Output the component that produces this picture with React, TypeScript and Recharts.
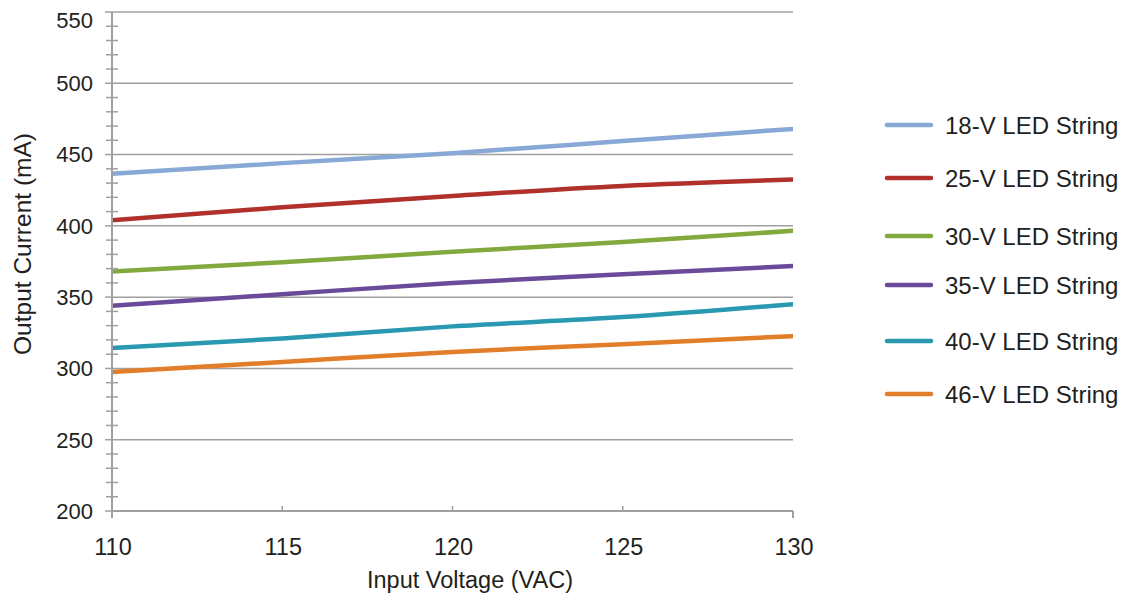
import React from "react";
import { LineChart, Line, XAxis, YAxis, ReferenceLine } from "recharts";

const voltages = [110, 115, 120, 125, 130];
const s18 = [436.5, 444, 451, 459.5, 468];
const s25 = [404, 413, 421, 428, 432.5];
const s30 = [368, 374.5, 381.8, 388.7, 396.5];
const s35 = [344, 352, 360, 366, 371.8];
const s40 = [314.3, 321, 329.5, 336, 345];
const s46 = [297.5, 304.5, 311.6, 317, 322.7];

const seriesNames = [
  "18-V LED String",
  "25-V LED String",
  "30-V LED String",
  "35-V LED String",
  "40-V LED String",
  "46-V LED String",
];
const seriesKeys = ["s18", "s25", "s30", "s35", "s40", "s46"];
const seriesColors = ["#88a8d6", "#b2302b", "#82a93d", "#6a4b99", "#2899b1", "#e27d2a"];

const xTicks = [110, 115, 120, 125, 130];
const yMajor = [200, 250, 300, 350, 400, 450, 500, 550];
const yTicks = [
  200, 210, 220, 230, 240, 250, 260, 270, 280, 290, 300, 310, 320, 330, 340, 350,
  360, 370, 380, 390, 400, 410, 420, 430, 440, 450, 460, 470, 480, 490, 500, 510,
  520, 530, 540, 550,
];

const data = voltages.map((v, i) => ({
  v,
  s18: s18[i],
  s25: s25[i],
  s30: s30[i],
  s35: s35[i],
  s40: s40[i],
  s46: s46[i],
}));

// legend layout (pixel positions of legend rows)
const legendY = [125, 178, 236, 285, 341, 394];

const FONT = "'Liberation Sans', Arial, Helvetica, sans-serif";
const TEXT = "#231f20";
const GRID = "#a0a0a0";

const YTick = (props: any) => {
  const { x, y, payload } = props;
  const v = payload.value;
  if (v % 50 === 0) {
    return (
      <g>
        <line x1={x - 7} x2={x} y1={y} y2={y} stroke={GRID} strokeWidth={1.5} />
        <text
          x={x - 19}
          y={v === 550 ? y + 8 : y}
          dy="0.36em"
          textAnchor="end"
          fontSize={22}
          fontFamily={FONT}
          fill={TEXT}
        >
          {v}
        </text>
      </g>
    );
  }
  return <line x1={x - 6} x2={x + 6} y1={y} y2={y} stroke="#a0a0a0" strokeWidth={1.5} />;
};

const XTick = (props: any) => {
  const { x, y, payload } = props;
  const v = payload.value;
  const edge = v === 110 || v === 130;
  return (
    <g>
      {edge ? (
        <line x1={x} x2={x} y1={y} y2={y + 7} stroke={GRID} strokeWidth={2} />
      ) : (
        <line x1={x} x2={x} y1={y - 5} y2={y} stroke={GRID} strokeWidth={1.5} />
      )}
      <text
        x={x + 1}
        y={y + 36}
        dy="0.36em"
        textAnchor="middle"
        fontSize={23.5}
        fontFamily={FONT}
        fill={TEXT}
      >
        {v}
      </text>
    </g>
  );
};

export default function App() {
  return (
    <div style={{ position: "absolute", left: 0, top: 0, width: 1125, height: 599, background: "#fff" }}>
      <LineChart
        width={1125}
        height={599}
        data={data}
        margin={{ top: 12, right: 332, bottom: 28, left: 52 }}
      >
        {yMajor.map((g) => (
          <ReferenceLine key={g} y={g} stroke={GRID} strokeWidth={1.5} ifOverflow="visible" />
        ))}
        <XAxis
          dataKey="v"
          type="number"
          domain={[110, 130]}
          ticks={xTicks}
          interval={0}
          height={60}
          tickSize={0}
          tickMargin={0}
          tickLine={false}
          axisLine={{ stroke: GRID, strokeWidth: 2 }}
          tick={<XTick />}
          allowDataOverflow
        />
        <YAxis
          type="number"
          domain={[200, 550]}
          ticks={yTicks}
          interval={0}
          width={60}
          tickSize={0}
          tickMargin={0}
          tickLine={false}
          axisLine={{ stroke: GRID, strokeWidth: 2 }}
          tick={<YTick />}
          allowDataOverflow
        />
        {seriesKeys.map((k, i) => (
          <Line
            key={k}
            type="monotone"
            dataKey={k}
            name={seriesNames[i]}
            stroke={seriesColors[i]}
            strokeWidth={4.5}
            strokeLinecap="round"
            dot={false}
            activeDot={false}
            isAnimationActive={false}
          />
        ))}
        <g>
          <text
            x={22}
            y={244}
            transform="rotate(-90 22 244)"
            dy="0.36em"
            textAnchor="middle"
            fontSize={24.5}
            fontFamily={FONT}
            fill={TEXT}
          >
            Output Current (mA)
          </text>
          <text
            x={470}
            y={580}
            dy="0.36em"
            textAnchor="middle"
            fontSize={23.5}
            fontFamily={FONT}
            fill={TEXT}
          >
            Input Voltage (VAC)
          </text>
          {seriesNames.map((n, i) => (
            <g key={n}>
              <line
                x1={887}
                x2={931}
                y1={legendY[i]}
                y2={legendY[i]}
                stroke={seriesColors[i]}
                strokeWidth={4.5}
                strokeLinecap="round"
              />
              <text
                x={945}
                y={legendY[i]}
                dy="0.36em"
                fontSize={24}
                fontFamily={FONT}
                fill={TEXT}
              >
                {n}
              </text>
            </g>
          ))}
        </g>
      </LineChart>
    </div>
  );
}
